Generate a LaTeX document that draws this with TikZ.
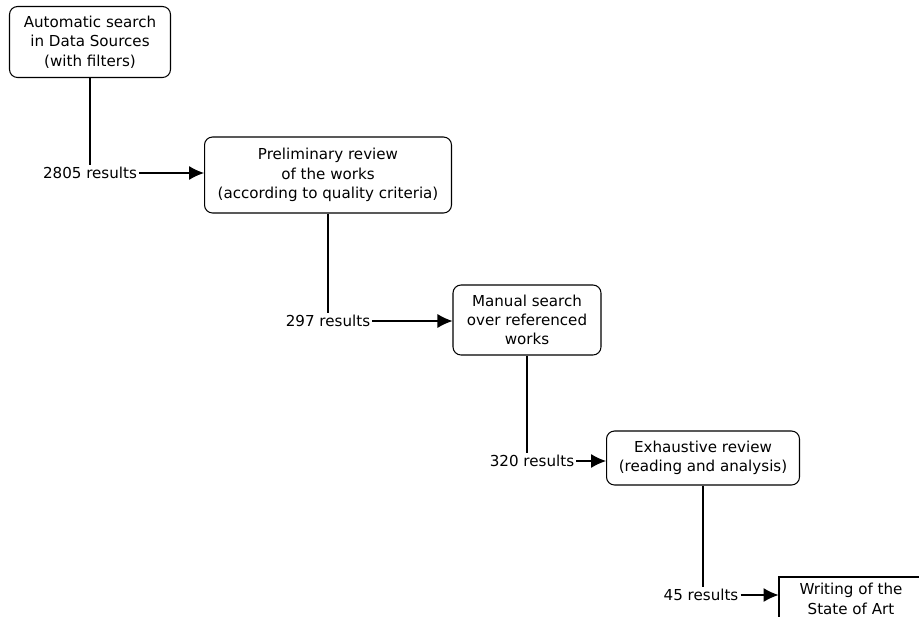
\documentclass[tikz,border=0pt]{standalone}
\usepackage{fontspec}
\setmainfont{DejaVu Sans}
\usetikzlibrary{arrows.meta}
\tikzset{
  stage/.style={draw, rounded corners=0.16cm, align=center, inner sep=0pt},
  count/.style={inner sep=1pt},
}
\begin{document}
\begin{tikzpicture}[>={Latex[length=3mm,width=2.8mm]}, x=0.02cm, y=-0.02cm, line width=0.6pt,
  font=\fontsize{8.6}{11}\selectfont]
\useasboundingbox (0,0) rectangle (919,616);
\clip (0,0) rectangle (919,616);
% stages
\node[stage, minimum width=3.22cm, minimum height=1.42cm] (search) at (90,42) {Automatic search\\in Data Sources\\(with filters)};
\node[stage, minimum width=4.94cm, minimum height=1.52cm] (prelim) at (328,175) {Preliminary review\\of the works\\(according to quality criteria)};
\node[stage, minimum width=2.96cm, minimum height=1.40cm] (manual) at (527,320) {Manual search\\over referenced\\works};
\node[stage, minimum width=3.86cm, minimum height=1.08cm] (exhaust) at (703,458) {Exhaustive review\\(reading and analysis)};
\node[draw, align=center, inner sep=0pt, minimum width=2.88cm, minimum height=0.88cm] (writing) at (851,599) {Writing of the\\State of Art};
% counts
\node[count] (r1) at (90,173) {2805 results};
\node[count] (r2) at (328,321) {297 results};
\node[count] (r3) at (532,461) {320 results};
\node[count] (r4) at (701,595) {45 results};
% connectors
\draw (search.south) -- (search.south |- r1.north);
\draw[->] (r1.east) -- (r1.east -| prelim.west);
\draw (prelim.south) -- (prelim.south |- r2.north);
\draw[->] (r2.east) -- (r2.east -| manual.west);
\draw (manual.south) -- (manual.south |- r3.north);
\draw[->] (r3.east) -- (r3.east -| exhaust.west);
\draw (exhaust.south) -- (exhaust.south |- r4.north);
\draw[->] (r4.east) -- (r4.east -| writing.west);
\end{tikzpicture}
\end{document}
